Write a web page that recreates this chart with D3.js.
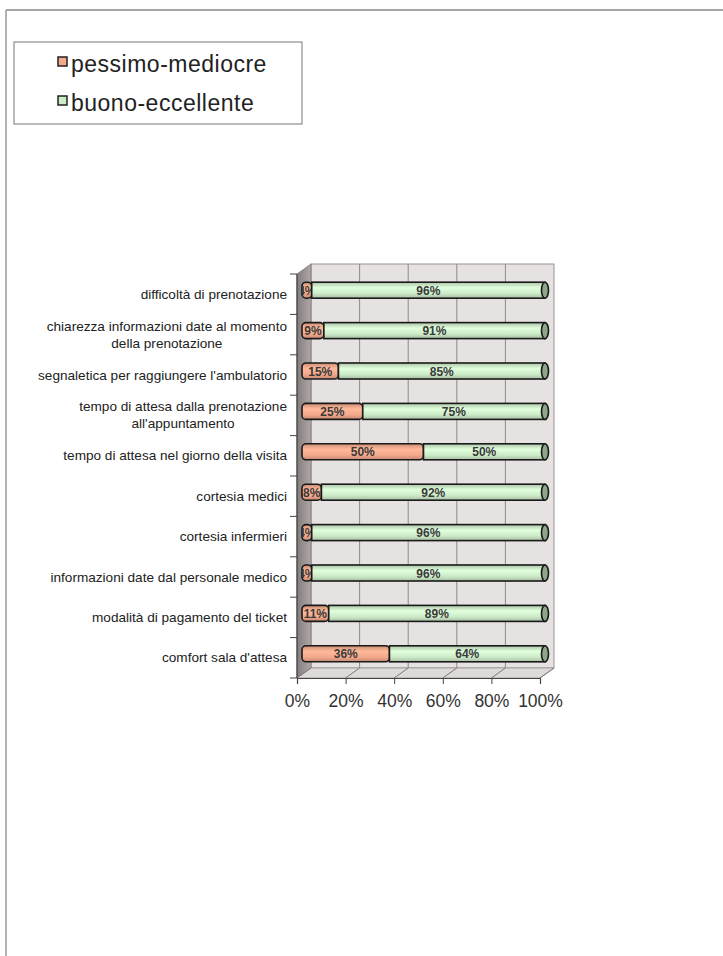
<!DOCTYPE html>
<html lang="it">
<head>
  <meta charset="UTF-8" />
  <title>Valutazione servizi</title>
  <script src="https://d3js.org/d3.v7.min.js"></script>
  <style>
    body, html { margin: 0; padding: 0; background: #fff; }
    svg { display: block; font-family: "Liberation Sans", Arial, sans-serif; }
  </style>
</head>
<body>
  <svg id="chart" width="723" height="956"></svg>
  <script>
    // Data
    const categories = [
      'difficoltà di prenotazione',
      'chiarezza informazioni date al momento|della prenotazione',
      "segnaletica per raggiungere l'ambulatorio",
      "tempo di attesa dalla prenotazione|all'appuntamento",
      'tempo di attesa nel giorno della visita',
      'cortesia medici',
      'cortesia infermieri',
      'informazioni date dal personale medico',
      'modalità di pagamento del ticket',
      "comfort sala d'attesa"
    ];
    const pessimo = [4, 9, 15, 25, 50, 8, 4, 4, 11, 36];
    const buono = [96, 91, 85, 75, 50, 92, 96, 96, 89, 64];
    const seriesNames = ['pessimo-mediocre', 'buono-eccellente'];
    const xTicks = [0, 20, 40, 60, 80, 100];

    const colors = ['#f4a98c', '#cdebc9'];
    const capColors = ['#b9715a', '#8fa58c'];

    const svg = d3.select('#chart');

    // page frame from the scan
    svg.append('line').attr('x1', 6).attr('y1', 10).attr('x2', 723).attr('y2', 10)
      .attr('stroke', '#8a8a8a').attr('stroke-width', 1.5);
    svg.append('line').attr('x1', 6).attr('y1', 10).attr('x2', 6).attr('y2', 956)
      .attr('stroke', '#9a9a9a').attr('stroke-width', 1.5);

    // Legend
    const legend = svg.append('g');
    legend.append('rect').attr('x', 14).attr('y', 42).attr('width', 288).attr('height', 82)
      .attr('fill', '#fff').attr('stroke', '#777').attr('stroke-width', 1);
    seriesNames.forEach((name, i) => {
      const base = 72 + i * 39;
      legend.append('rect').attr('x', 58).attr('y', base - 15).attr('width', 9).attr('height', 9)
        .attr('fill', colors[i]).attr('stroke', '#222').attr('stroke-width', 1.5);
      legend.append('text').attr('x', 71).attr('y', base)
        .attr('font-size', 23).attr('letter-spacing', 0.5).attr('fill', '#222').text(name);
    });

    // Scales (front plane)
    const x = d3.scaleLinear().domain([0, 100]).range([297, 540]);
    const y = d3.scaleBand().domain(categories).range([274, 678]);
    const dx = 14, dy = -10;          // depth of the 3D box
    const bx = 5, by = -4;            // bar position inside the depth
    const barH = 16;

    const x0 = x(0), x1 = x(100), yTop = y.range()[0], yBot = y.range()[1];

    const defs = svg.append('defs');
    const sideGrad = defs.append('linearGradient').attr('id', 'side').attr('x1', 0).attr('x2', 1);
    sideGrad.append('stop').attr('offset', 0).attr('stop-color', '#857d7d');
    sideGrad.append('stop').attr('offset', 1).attr('stop-color', '#b0a8a7');

    colors.forEach((c, i) => {
      const g = defs.append('linearGradient').attr('id', 'cyl' + i)
        .attr('x1', 0).attr('x2', 0).attr('y1', 0).attr('y2', 1);
      g.append('stop').attr('offset', 0).attr('stop-color', d3.color(c).darker(0.5));
      g.append('stop').attr('offset', 0.35).attr('stop-color', d3.color(c).brighter(0.25));
      g.append('stop').attr('offset', 0.7).attr('stop-color', c);
      g.append('stop').attr('offset', 1).attr('stop-color', d3.color(c).darker(0.6));
    });

    // back wall
    svg.append('rect').attr('x', x0 + dx).attr('y', yTop + dy)
      .attr('width', x1 - x0).attr('height', yBot - yTop)
      .attr('fill', '#e6e2e1').attr('stroke', '#9a9494').attr('stroke-width', 1);
    // vertical gridlines on back wall
    svg.append('g').selectAll('line').data(xTicks.slice(1, -1)).join('line')
      .attr('x1', d => x(d) + dx).attr('x2', d => x(d) + dx)
      .attr('y1', yTop + dy).attr('y2', yBot + dy)
      .attr('stroke', '#8f8a8a').attr('stroke-width', 1);

    // left side wall
    svg.append('polygon')
      .attr('points', [[x0, yTop], [x0 + dx, yTop + dy], [x0 + dx, yBot + dy], [x0, yBot]].join(' '))
      .attr('fill', 'url(#side)').attr('stroke', '#777').attr('stroke-width', 0.8);

    // floor
    svg.append('polygon')
      .attr('points', [[x0, yBot], [x0 + dx, yBot + dy], [x1 + dx, yBot + dy], [x1, yBot]].join(' '))
      .attr('fill', '#dedad9').attr('stroke', '#9a9494').attr('stroke-width', 0.8);
    svg.append('g').selectAll('line').data(xTicks).join('line')
      .attr('x1', d => x(d)).attr('x2', d => x(d) + dx)
      .attr('y1', yBot).attr('y2', yBot + dy)
      .attr('stroke', '#7d7777').attr('stroke-width', 1);

    // x axis
    const xAxis = svg.append('g').attr('transform', `translate(0,${yBot})`)
      .call(d3.axisBottom(x).tickValues(xTicks).tickFormat(d => d + '%').tickSize(6).tickPadding(11));
    xAxis.select('.domain').attr('stroke', '#444').attr('stroke-width', 1.2);
    xAxis.selectAll('.tick line').attr('stroke', '#444');
    xAxis.selectAll('text').attr('font-size', 17.5).attr('fill', '#333')
      .attr('font-family', '"Liberation Sans", Arial, sans-serif');

    // y axis line and ticks at category boundaries
    svg.append('line').attr('x1', x0).attr('x2', x0).attr('y1', yTop).attr('y2', yBot)
      .attr('stroke', '#444').attr('stroke-width', 1.2);
    const bounds = categories.map(c => y(c)).concat([yBot]);
    svg.append('g').selectAll('line').data(bounds).join('line')
      .attr('x1', x0 - 7).attr('x2', x0).attr('y1', d => d).attr('y2', d => d)
      .attr('stroke', '#444').attr('stroke-width', 1);

    // category labels
    const labels = svg.append('g');
    categories.forEach(c => {
      const lines = c.split('|');
      const cy = y(c) + y.bandwidth() / 2;
      const right = x0 - 10;
      const t = labels.append('text').attr('font-size', 13.6).attr('fill', '#222')
        .attr('text-anchor', 'middle');
      const spans = lines.map((l, i) => t.append('tspan').text(l)
        .attr('y', cy + 4.5 + (i - (lines.length - 1) / 2) * 17));
      const w = d3.max(spans, s => s.node().getComputedTextLength());
      spans.forEach(s => s.attr('x', right - w / 2));
    });

    // stacked cylinder bars
    const rows = categories.map((c, i) => ({ cat: c, vals: [pessimo[i], buono[i]] }));
    const bars = svg.append('g');
    rows.forEach((r, ri) => {
      const cy = y(r.cat) + y.bandwidth() / 2 + by;
      const top = cy - barH / 2;
      let start = 0;
      r.vals.forEach((v, si) => {
        const xa = x(start) + bx, xb = x(start + v) + bx;
        const clipId = `clip-${ri}-${si}`;
        defs.append('clipPath').attr('id', clipId).append('rect')
          .attr('x', xa).attr('y', top).attr('width', xb - xa).attr('height', barH);
        bars.append('rect').attr('x', xa).attr('y', top).attr('width', xb - xa).attr('height', barH)
          .attr('rx', si === 0 ? 4 : 0)
          .attr('fill', `url(#cyl${si})`).attr('stroke', '#1a1a1a').attr('stroke-width', 1.6);
        bars.append('text').attr('clip-path', `url(#${clipId})`)
          .attr('x', (xa + xb) / 2).attr('y', cy + 4.5)
          .attr('text-anchor', 'middle').attr('font-size', 12).attr('font-weight', 'bold')
          .attr('fill', '#3a3a3a').text(v + '%');
        start += v;
      });
      // end cap
      bars.append('ellipse').attr('cx', x(100) + bx).attr('cy', cy)
        .attr('rx', 3.5).attr('ry', barH / 2)
        .attr('fill', capColors[1]).attr('stroke', '#1a1a1a').attr('stroke-width', 1.6);
    });
  </script>
</body>
</html>
